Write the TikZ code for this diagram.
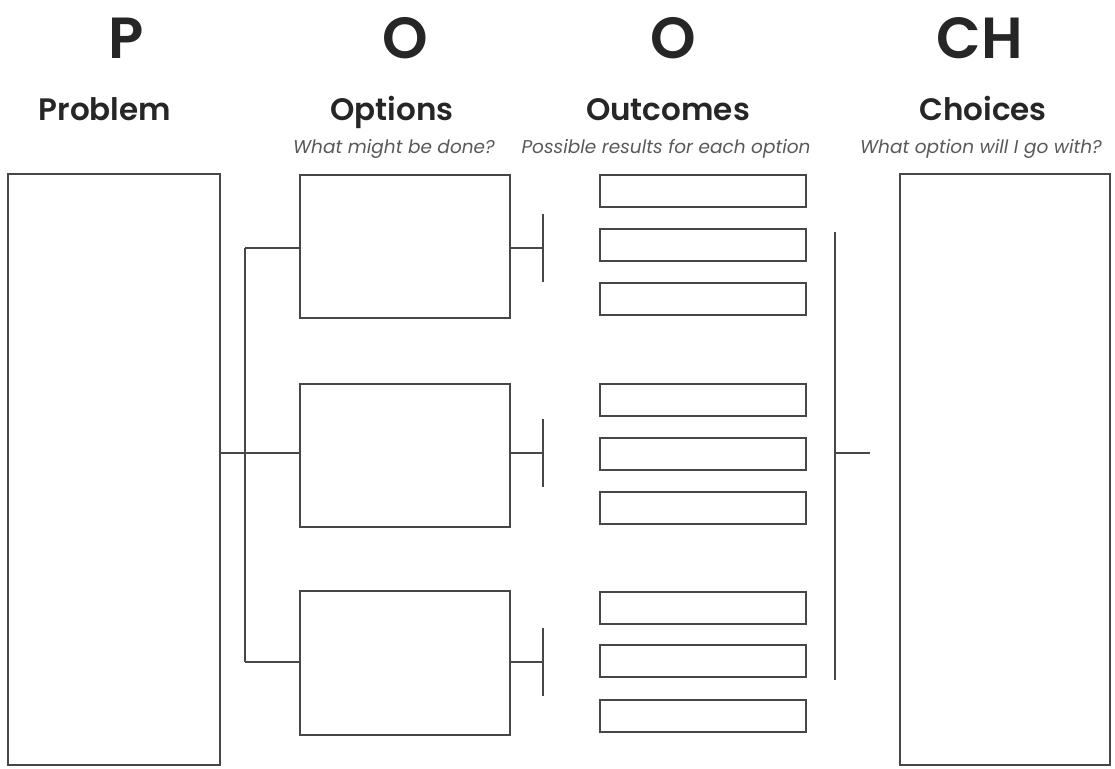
\documentclass[tikz,border=0pt]{standalone}
\usepackage{fontspec}
\IfFontExistsTF{Poppins SemiBold}
  {\setmainfont{Poppins}[BoldFont={Poppins SemiBold},BoldItalicFont={Poppins SemiBold Italic}]}
  {\setmainfont{Poppins}}
\begin{document}
\begin{tikzpicture}[x=1pt,y=-1pt,
  box/.style={draw=black!72,line width=1.7pt},
  conn/.style={draw=black!72,line width=1.7pt},
  big/.style={font=\fontsize{58}{58}\selectfont\bfseries,text=black!85,inner sep=0,anchor=base},
  head/.style={font=\fontsize{31}{31}\selectfont\bfseries,text=black!85,inner sep=0,anchor=base},
  sub/.style={font=\fontsize{18.5}{18.5}\selectfont\itshape,text=black!65,inner sep=0,anchor=base}]
\useasboundingbox (0,0) rectangle (1115,768);
% headings
\node[big] (bP) at (126,59) {P};
\node[big] (bO1) at (405,59) {O};
\node[big] (bO2) at (673,59) {O};
\node[big] (bCH) at (980,59) {CH};
\node[head] (hP) at (105,120) {Problem};
\node[head] (hO1) at (392,120) {Options};
\node[head] (hO2) at (668,120) {Outcomes};
\node[head] (hC) at (983,120) {Choices};
\node[sub] (sO1) at (394,153) {What might be done?};
\node[sub] (sO2) at (666,153) {Possible results for each option};
\node[sub] (sC) at (981,153) {What option will I go with?};
% main boxes
\draw[box] (8,174) rectangle (220,765);
\coordinate (probR) at (220,453);
\draw[box] (900,174) rectangle (1110,765);
% options
\foreach \i/\t/\b/\m in {1/175/318/248, 2/384/527/453, 3/591/735/662}{
  \draw[box] (300,\t) rectangle (510,\b);
  \coordinate (optL\i) at (300,\m);
  \coordinate (optR\i) at (510,\m);
  \coordinate (tee\i) at (543,\m);
  \draw[conn] (optR\i) -- (tee\i);
  \draw[conn] ([yshift=-34pt]tee\i) -- ([yshift=34pt]tee\i);
}
% tree on the left
\coordinate (trunkT) at (245,248);
\coordinate (trunkB) at (245,662);
\draw[conn] (trunkT) -- (trunkB);
\draw[conn] (probR) -- (optL2);
\draw[conn] (trunkT) -- (optL1);
\draw[conn] (trunkB) -- (optL3);
% outcomes
\foreach \t in {175,229,283,384,438,492,592,645,700}{
  \draw[box] (600,\t) rectangle (806,\t+32);
}
% right bracket
\coordinate (brT) at (835,232);
\coordinate (brB) at (835,680);
\coordinate (brM) at (835,453);
\coordinate (brE) at (870,453);
\draw[conn] (brT) -- (brB);
\draw[conn] (brM) -- (brE);
\end{tikzpicture}
\end{document}
